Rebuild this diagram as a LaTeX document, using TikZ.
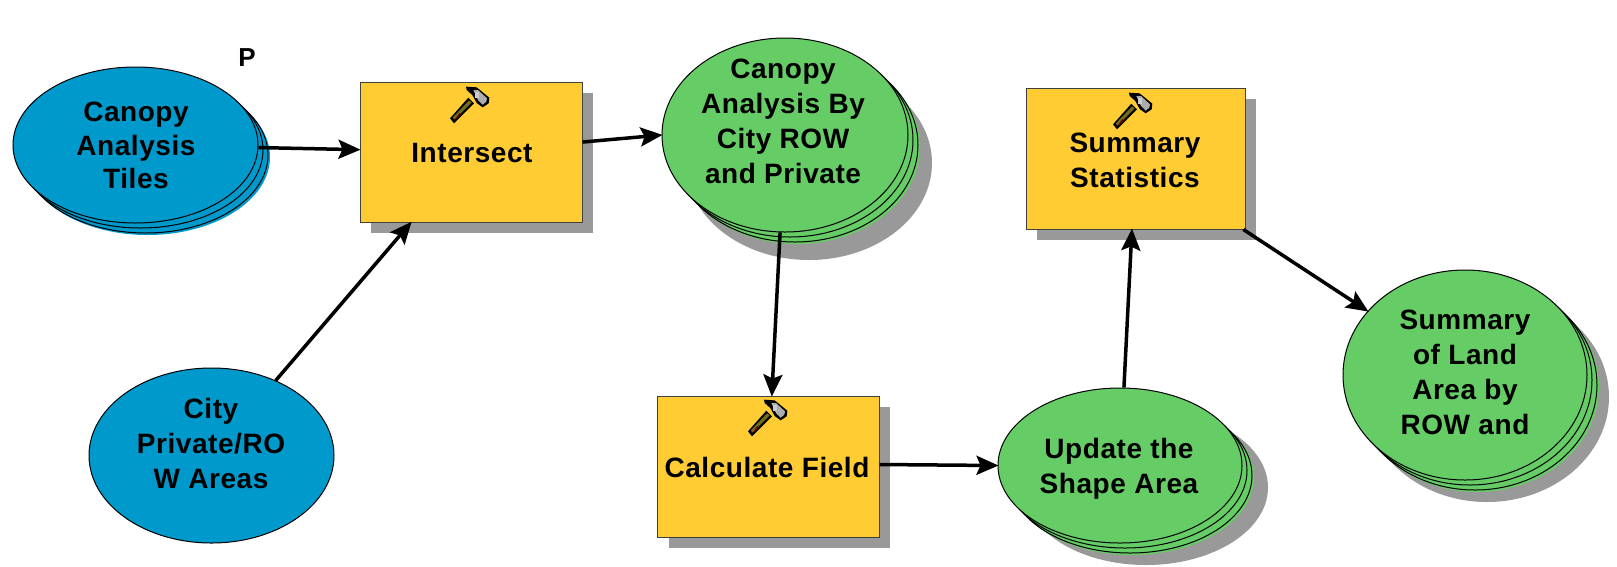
\documentclass[tikz,border=0pt]{standalone}
\usepackage{fontspec}
\setmainfont[LetterSpace=2]{Liberation Sans}
\usetikzlibrary{shapes.geometric,arrows.meta}
\definecolor{toolY}{HTML}{FFCC33}
\definecolor{dataG}{HTML}{66CC66}
\definecolor{dataB}{HTML}{0099CC}
\definecolor{shad}{HTML}{999999}
\tikzset{
  txt/.style={font=\fontsize{28}{35}\selectfont\bfseries,align=center,inner sep=0pt,text=black},
  toolbox/.style={rectangle,draw=black!75,line width=1pt,fill=toolY,inner sep=0pt},
  databall/.style={ellipse,draw=black,line width=1pt,inner sep=0pt},
  flow/.style={draw=black,line width=3.5pt,-{Stealth[length=22pt,width=19pt,inset=4pt]},shorten >=-1pt},
}
% shadowed rectangle: name, left, top, w, h
\newcommand{\toolnode}[5]{%
  \fill[shad] (#2+11,#3+11) rectangle +(#4,#5);
  \node[toolbox,minimum width=#4pt,minimum height=#5pt] (#1) at (#2+#4/2,#3+#5/2) {};
}
% stack: name, cx, cy, rx, ry, colour
\newcommand{\stacknode}[6]{%
  \fill[#6] (#2+12,#3+12) ellipse ({#4} and {#5});
  \draw[fill=#6,line width=1pt] (#2+10,#3+10) ellipse ({#4} and {#5});
  \draw[fill=#6,line width=1pt] (#2+5,#3+5) ellipse ({#4} and {#5});
  \node[databall,fill=#6,minimum width=2*#4 pt,minimum height=2*#5 pt] (#1) at (#2,#3) {};
}
% hammer icon: top-left of its 60x60 cell
\newcommand{\hammer}[2]{%
  \begin{scope}[shift={(#1,#2)},x=0.3333pt,y=-0.3333pt]
    \fill[black] (30,130) -- (42,145) -- (102,85) -- (85,68) -- cycle;
    \fill[olive!75!black] (38,128) -- (44,134) -- (95,82) -- (87,76) -- cycle;
    \fill[red!45!black] (44,134) -- (49,131) -- (62,118) -- (58,114) -- cycle;
    \fill[black] (78,35) -- (110,37) -- (148,68) -- (146,85) -- (128,97) -- (110,84) -- (97,60) -- (80,45) -- cycle;
    \fill[shad!80!white] (100,45) -- (114,45) -- (141,70) -- (139,80) -- (128,89) -- (114,75) -- cycle;
    \fill[white!80!black] (104,52) rectangle (118,68);
  \end{scope}%
}
\begin{document}
\begin{tikzpicture}[x=1pt,y=-1pt]
\useasboundingbox (0,0) rectangle (1617,566);
% blue inputs
\stacknode{tiles}{135.5}{145}{122.5}{78}{dataB}
\node[databall,fill=dataB,minimum width=245pt,minimum height=175pt] (areas) at (211.5,455.5) {};
% green stacks with shadows
\fill[shad] (809,163) ellipse (123 and 97);
\stacknode{canopy}{785}{135}{123}{97}{dataG}
\fill[shad] (1146,487.5) ellipse (122 and 77.5);
\stacknode{update}{1120}{465.5}{122}{77.5}{dataG}
\fill[shad] (1487,397) ellipse (122 and 105);
\stacknode{summary}{1465}{375}{122}{105}{dataG}
% tools
\toolnode{intersect}{360}{82}{222}{140}
\toolnode{calc}{657.5}{396}{221.5}{141}
\toolnode{stats}{1026}{88}{219}{141}
\hammer{440}{75}
\hammer{738}{388}
\hammer{1103}{81}
% text
\node[txt] (tilesT) at (136,145.5) {Canopy\\[-1.5pt]Analysis\\[-1.5pt]Tiles};
\node[txt] (areasT) at (211,443) {City\\Private/RO\\W Areas};
\node[txt] (canopyT) at (783,121) {Canopy\\Analysis By\\City ROW\\and Private};
\node[txt] (updateT) at (1119,469) {Update the\\Shape Area};
\node[txt] (summaryT) at (1465,372) {Summary\\of Land\\Area by\\ROW and};
\node[txt] (intersectT) at (472,153) {Intersect};
\node[txt] (calcT) at (767,467) {Calculate Field};
\node[txt] (statsT) at (1135,160) {Summary\\Statistics};
\node[font=\fontsize{26}{30}\selectfont\bfseries,inner sep=0pt] (pmark) at (247,58) {P};
% connectors
\draw[flow] (tiles) -- (intersect);
\draw[flow] (areas) -- (intersect);
\draw[flow] (intersect) -- (canopy.west);
\draw[flow] (canopy) -- (calc);
\draw[flow] ([yshift=2pt]calc.east) -- (update.west);
\draw[flow] (update) -- (stats);
\draw[flow] (stats) -- (summary);
\end{tikzpicture}
\end{document}
